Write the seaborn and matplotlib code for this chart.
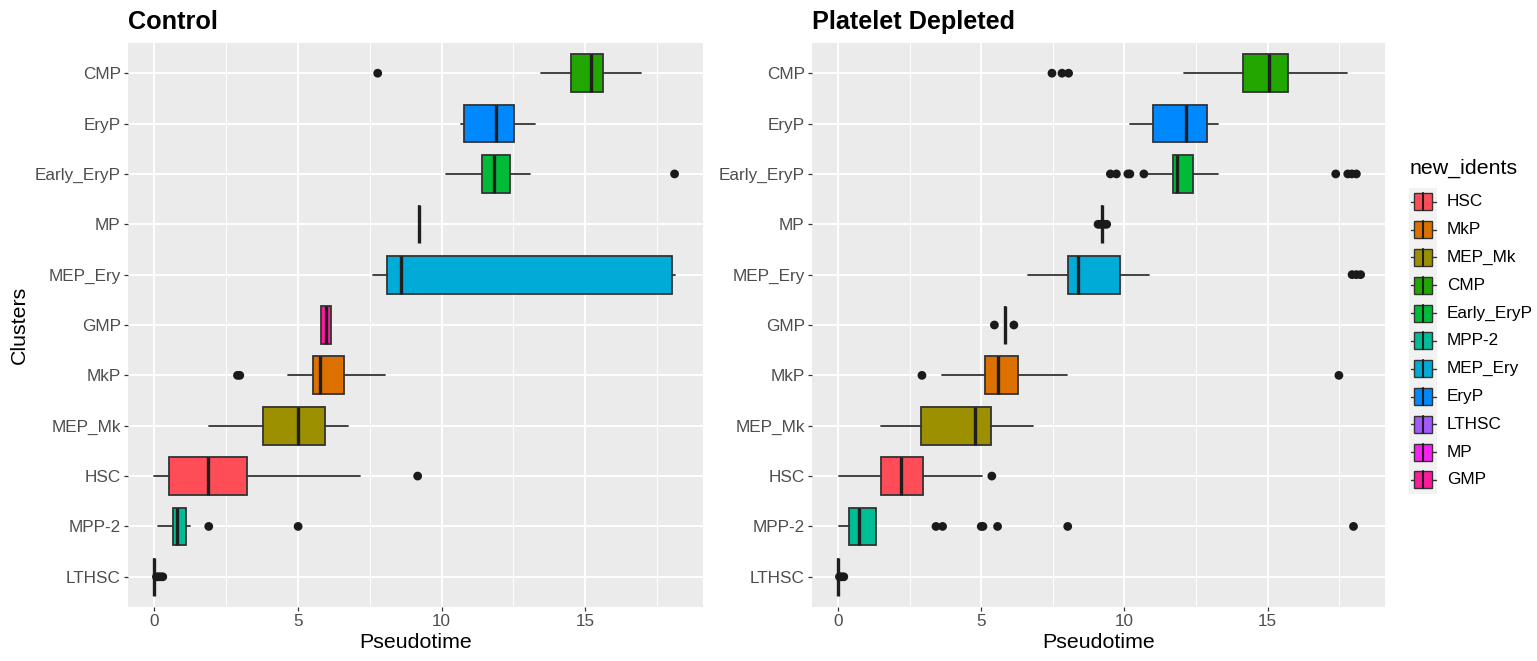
import numpy as np
import pandas as pd
import matplotlib
matplotlib.use("Agg")
import matplotlib.pyplot as plt
from matplotlib.ticker import MultipleLocator
from matplotlib.patches import Rectangle
import seaborn as sns

# Clusters listed bottom to top along the y axis
clusters = ["LTHSC", "MPP-2", "HSC", "MEP_Mk", "MkP", "GMP",
            "MEP_Ery", "MP", "Early_EryP", "EryP", "CMP"]

# Legend order and fill colour of each identity
legend_order = ["HSC", "MkP", "MEP_Mk", "CMP", "Early_EryP", "MPP-2",
                "MEP_Ery", "EryP", "LTHSC", "MP", "GMP"]
ident_colors = ["#FF4D57", "#DD7100", "#9C9000", "#22A600", "#00BB38", "#00BD96",
                "#00ACD7", "#0088FF", "#A259FF", "#F921F0", "#FF1A9E"]

# Control: box-plot summary per cluster (same order as `clusters`)
ctrl_whislo = [0.00, 0.13, 0.00, 1.90, 4.67, 5.79, 7.63, 9.23, 10.17, 10.67, 13.45]
ctrl_q1     = [0.00, 0.66, 0.52, 3.78, 5.54, 5.79, 8.09, 9.23, 11.42, 10.77, 14.50]
ctrl_med    = [0.00, 0.80, 1.88, 5.00, 5.76, 5.97, 8.60, 9.23, 11.84, 11.90, 15.20]
ctrl_q3     = [0.00, 1.10, 3.22, 5.94, 6.60, 6.15, 18.03, 9.23, 12.39, 12.51, 15.62]
ctrl_whishi = [0.00, 1.26, 7.18, 6.74, 8.02, 6.15, 18.14, 9.23, 13.07, 13.27, 16.93]
ctrl_outliers = {
    "LTHSC": [0.08, 0.15, 0.22, 0.30],
    "MPP-2": [1.90, 5.01],
    "HSC": [9.17],
    "MkP": [2.90, 2.98],
    "Early_EryP": [18.11],
    "CMP": [7.78],
}

# Platelet depleted: box-plot summary per cluster
pd_whislo = [0.00, 0.04, 0.02, 1.50, 3.63, 5.82, 6.62, 9.23, 10.76, 10.18, 12.08]
pd_q1     = [0.00, 0.38, 1.51, 2.91, 5.14, 5.82, 8.04, 9.23, 11.70, 11.00, 14.15]
pd_med    = [0.00, 0.72, 2.19, 4.78, 5.57, 5.82, 8.37, 9.23, 11.83, 12.16, 15.05]
pd_q3     = [0.00, 1.33, 2.97, 5.34, 6.29, 5.82, 9.83, 9.23, 12.38, 12.89, 15.72]
pd_whishi = [0.00, 1.33, 5.03, 6.82, 8.00, 5.82, 10.85, 9.23, 13.26, 13.26, 17.79]
pd_outliers = {
    "LTHSC": [0.05, 0.12, 0.20],
    "MPP-2": [3.42, 3.65, 5.00, 5.06, 5.57, 8.02, 18.00],
    "HSC": [5.37],
    "MkP": [2.93, 17.49],
    "GMP": [5.46, 6.14],
    "MEP_Ery": [17.95, 18.10, 18.25],
    "MP": [9.08, 9.16, 9.31, 9.38],
    "Early_EryP": [9.51, 9.72, 10.12, 10.19, 10.68, 17.38, 17.80, 17.94, 18.10],
    "CMP": [7.47, 7.82, 8.05],
}

x_ticks = [0, 5, 10, 15]

sns.set_theme(style="darkgrid", rc={
    "axes.facecolor": "#EBEBEB",
    "grid.color": "white",
    "figure.facecolor": "white",
})
plt.rcParams["font.family"] = ["Liberation Sans", "DejaVu Sans"]

color_of = dict(zip(legend_order, ident_colors))
EDGE = "#333333"

W, H = 1537, 661
fig = plt.figure(figsize=(W / 100, H / 100), dpi=100)


def px_axes(x0, y0, x1, y1):
    return fig.add_axes([x0 / W, 1 - y1 / H, (x1 - x0) / W, (y1 - y0) / H])


def draw_panel(ax, title, whislo, q1, med, q3, whishi, outliers):
    stats = [dict(label=c, whislo=a, q1=b, med=m, q3=d, whishi=e, fliers=[])
             for c, a, b, m, d, e in zip(clusters, whislo, q1, med, q3, whishi)]
    pos = np.arange(len(clusters))
    art = ax.bxp(stats, positions=pos, widths=0.75, orientation="horizontal",
                 patch_artist=True, showcaps=False, showfliers=False,
                 boxprops=dict(edgecolor=EDGE, linewidth=1.3),
                 whiskerprops=dict(color=EDGE, linewidth=1.3),
                 medianprops=dict(color="#1E1E1E", linewidth=2.4,
                                  solid_capstyle="butt"))
    for patch, c in zip(art["boxes"], clusters):
        patch.set_facecolor(color_of[c])

    rows = [(c, v) for c in clusters for v in outliers.get(c, [])]
    odf = pd.DataFrame(rows, columns=["cluster", "pseudotime"])
    odf["pos"] = odf["cluster"].map({c: i for i, c in enumerate(clusters)})
    sns.scatterplot(data=odf, x="pseudotime", y="pos", ax=ax, s=40,
                    color="#1A1A1A", edgecolor="none", zorder=3, legend=False)

    ax.set_xlim(-0.91, 19.1)
    ax.set_ylim(-0.6, len(clusters) - 1 + 0.6)
    ax.set_yticks(pos)
    ax.set_yticklabels(clusters)
    ax.set_xticks(x_ticks)
    ax.set_xticklabels([str(t) for t in x_ticks])
    ax.xaxis.set_minor_locator(MultipleLocator(2.5))
    ax.set_axisbelow(True)
    ax.grid(which="major", color="white", linewidth=1.4)
    ax.grid(which="minor", axis="x", color="white", linewidth=0.7)
    ax.grid(which="minor", axis="y", visible=False)
    ax.tick_params(which="major", length=2.75, width=0.9, color=EDGE,
                   bottom=True, left=True, labelsize=12.3,
                   labelcolor="#4D4D4D", pad=2.5)
    ax.tick_params(which="minor", length=0)
    for sp in ax.spines.values():
        sp.set_visible(False)
    ax.set_xlabel("Pseudotime", fontsize=15.4, color="black", labelpad=3)
    ax.set_ylabel("")
    ax.set_title(title, loc="left", fontsize=18.2, fontweight="bold",
                 color="black", pad=10)


ax1 = px_axes(128, 43, 703, 607)
draw_panel(ax1, "Control", ctrl_whislo, ctrl_q1, ctrl_med, ctrl_q3,
           ctrl_whishi, ctrl_outliers)
ax2 = px_axes(812, 43, 1385, 607)
draw_panel(ax2, "Platelet Depleted", pd_whislo, pd_q1, pd_med, pd_q3,
           pd_whishi, pd_outliers)

fig.text(19 / W, 1 - 325 / H, "Clusters", rotation=90, ha="center",
         va="center", fontsize=15.4, color="black")

# Legend drawn on an overlay in pixel units
lax = fig.add_axes([0, 0, 1, 1], facecolor="none")
lax.set_xlim(0, W)
lax.set_ylim(H, 0)
lax.axis("off")
lax.text(1410, 168, "new_idents", ha="left", va="center", fontsize=15.4,
         color="black")
step = 27.83
top = 201.7
lax.add_patch(Rectangle((1409, top - step / 2), 28, step * len(legend_order),
                        facecolor="#F2F2F2", edgecolor="none"))
for i, name in enumerate(legend_order):
    cy = top + i * step
    lax.add_patch(Rectangle((1414, cy - 8.5), 18, 17, facecolor=color_of[name],
                            edgecolor=EDGE, linewidth=1.0))
    lax.plot([1423, 1423], [cy - 8.5, cy + 8.5], color="#1E1E1E", lw=1.5)
    lax.plot([1410.5, 1414], [cy, cy], color=EDGE, lw=1.0)
    lax.plot([1432, 1435.5], [cy, cy], color=EDGE, lw=1.0)
    lax.text(1447, cy, name, ha="left", va="center", fontsize=12.3,
             color="black")

fig.savefig("out.png", dpi=100)
